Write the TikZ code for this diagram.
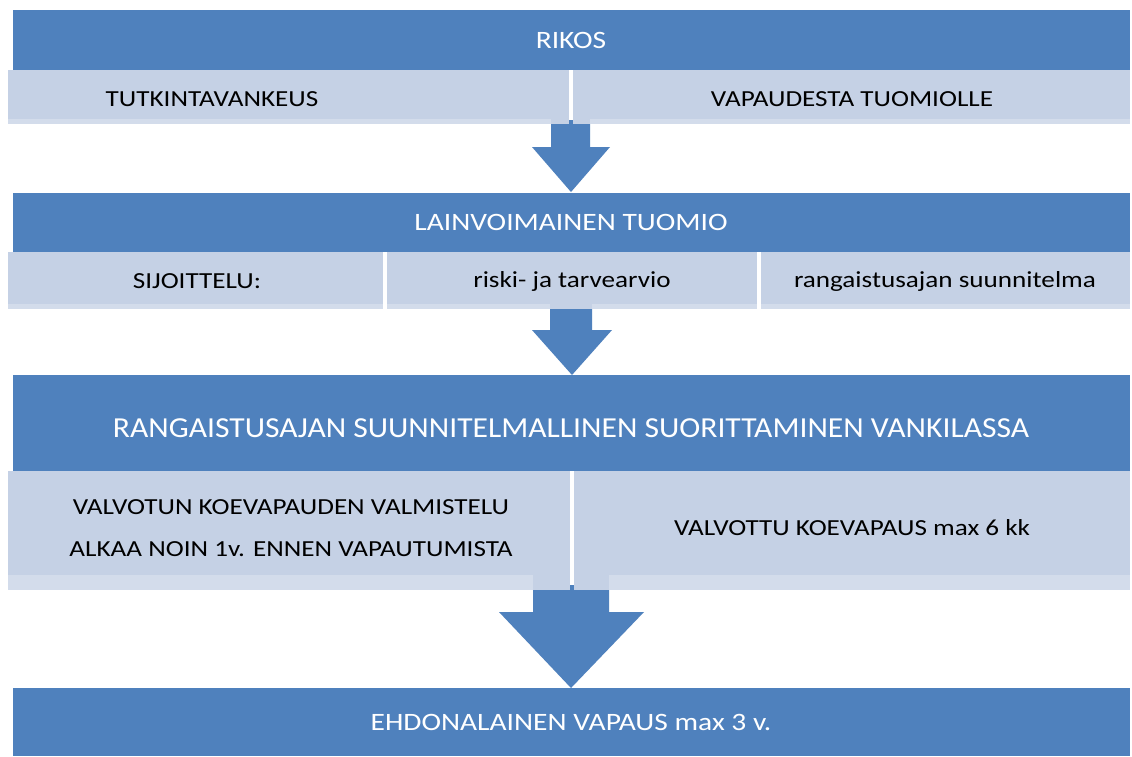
\documentclass[tikz,border=0pt]{standalone}
\usepackage{fontspec}
\setmainfont{Carlito}
\newfontfamily\widefont[FakeStretch=1.18]{Carlito}
\newfontfamily\titlefont[FakeStretch=1.09]{Carlito}
\definecolor{darkbar}{HTML}{4F81BD}
\definecolor{lightcell}{HTML}{C5D1E5}
\definecolor{lightstrip}{HTML}{D3DCEB}
\tikzset{
  barbox/.style={fill=darkbar, draw=none, inner sep=0pt},
  bartext/.style={text=white, inner sep=0pt, font=\widefont\fontsize{25}{30}\selectfont},
  cellbox/.style={fill=lightcell, draw=none, inner sep=0pt},
  celltext/.style={text=black, inner sep=0pt, font=\widefont\fontsize{23}{28}\selectfont, align=center},
  blockarrow/.style={fill=darkbar, draw=none},
  stripbox/.style={fill=lightstrip, draw=none}
}
\begin{document}
\begin{tikzpicture}[x=1pt,y=-1pt]
\useasboundingbox (0,0) rectangle (1132,756);
\fill[white] (0,0) rectangle (1132,756);
% arrows (behind)
\fill[blockarrow] (551,120) -- (590,120) -- (590,147) -- (610,147) -- (571,192) -- (532,147) -- (551,147) -- cycle;
\fill[blockarrow] (550,305) -- (592,305) -- (592,330) -- (612,330) -- (572,375) -- (532,330) -- (550,330) -- cycle;
\fill[blockarrow] (533,585) -- (609,585) -- (609,612) -- (644,612) -- (571,688) -- (499,612) -- (533,612) -- cycle;
% bar 1 and row 1
\node[barbox, minimum width=1117pt, minimum height=60pt] (rikos) at (571.5,40) {};
\node[bartext] (rikost) at (571,40) {RIKOS};
\node[cellbox, minimum width=561pt, minimum height=54pt] (c11) at (288.5,97) {};
\node[cellbox, minimum width=557pt, minimum height=54pt] (c12) at (851.5,97) {};
\fill[stripbox] (8,119) rectangle (551,124);
\fill[stripbox] (590,119) rectangle (1130,124);
\node[celltext] (t11) at (212,99) {TUTKINTAVANKEUS};
\node[celltext] (t12) at (852,99) {VAPAUDESTA TUOMIOLLE};
% bar 2 and row 2
\node[barbox, minimum width=1117pt, minimum height=59pt] (tuomio) at (571.5,222.5) {};
\node[bartext] (tuomiot) at (571,222) {LAINVOIMAINEN TUOMIO};
\node[cellbox, minimum width=375pt, minimum height=57pt] (c21) at (195.5,280.5) {};
\node[cellbox, minimum width=370pt, minimum height=57pt] (c22) at (572,280.5) {};
\node[cellbox, minimum width=369pt, minimum height=57pt] (c23) at (945.5,280.5) {};
\fill[stripbox] (8,304) rectangle (383,309);
\fill[stripbox] (387,304) rectangle (550,309);
\fill[stripbox] (592,304) rectangle (757,309);
\fill[stripbox] (761,304) rectangle (1130,309);
\node[celltext] (t21) at (197,281) {SIJOITTELU:};
\node[celltext] (t22) at (572,281) {riski- ja tarvearvio};
\node[celltext] (t23) at (945,281) {rangaistusajan suunnitelma};
% bar 3 and row 3
\node[barbox, minimum width=1117pt, minimum height=96pt] (suoritus) at (571.5,423) {};
\node[text=white, inner sep=0pt, font=\titlefont\fontsize{29}{34}\selectfont] (suoritust) at (571,428) {RANGAISTUSAJAN SUUNNITELMALLINEN SUORITTAMINEN VANKILASSA};
\node[cellbox, minimum width=562pt, minimum height=119pt] (c31) at (289,530.5) {};
\node[cellbox, minimum width=556pt, minimum height=119pt] (c32) at (852,530.5) {};
\fill[stripbox] (8,575) rectangle (533,590);
\fill[stripbox] (609,575) rectangle (1130,590);
\node[celltext] (t31a) at (291,507) {VALVOTUN KOEVAPAUDEN VALMISTELU};
\node[celltext] (t31b) at (291,549) {ALKAA NOIN 1v. ENNEN VAPAUTUMISTA};
\node[celltext] (t32) at (852,528) {VALVOTTU KOEVAPAUS max 6 kk};
% bar 4
\node[barbox, minimum width=1117pt, minimum height=68pt] (ehdonalainen) at (571.5,722) {};
\node[bartext] (ehdonalainent) at (571,722) {EHDONALAINEN VAPAUS max 3 v.};
\end{tikzpicture}
\end{document}
